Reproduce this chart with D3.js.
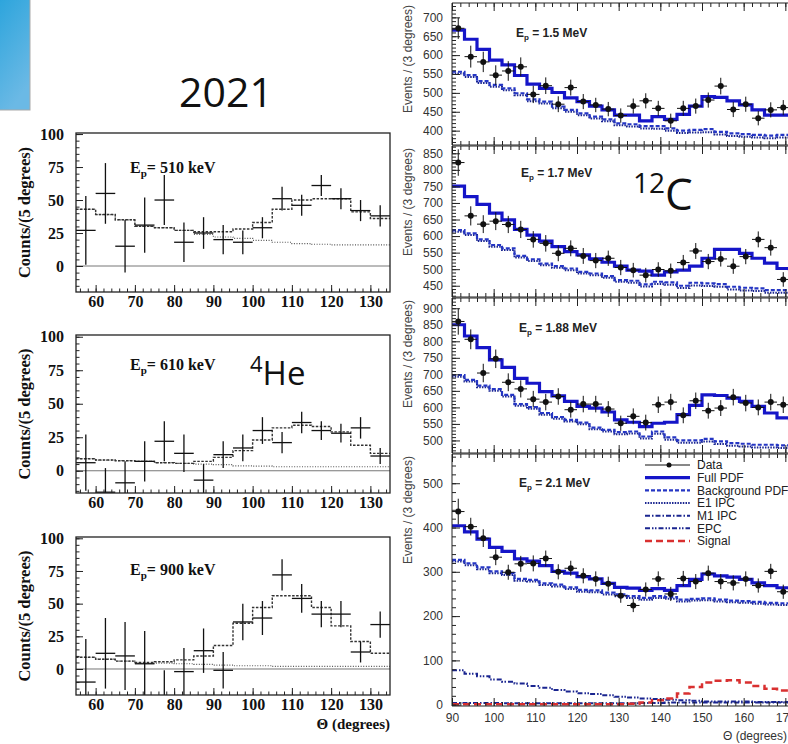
<!DOCTYPE html>
<html>
<head>
<meta charset="utf-8">
<script src="https://cdn.jsdelivr.net/npm/d3@7"></script>
<style>
  body { margin: 0; background: #fff; }
  svg { display: block; }
</style>
</head>
<body>
<svg id="chart" width="788" height="744"></svg>
<script>
// ---- 4He angular distributions (5 degree bins) ----
const heTheta = [57.5, 62.5, 67.5, 72.5, 77.5, 82.5, 87.5, 92.5, 97.5, 102.5, 107.5, 112.5, 117.5, 122.5, 127.5, 132.5];

const he510    = [27, 55, 15, 31, 50, 18, 25, 20, 18, 29, 51, 46, 61, 51, 42, 38];
const he510Err = [26, 23, 20, 21, 19, 15, 12, 11, 9, 8, 9, 8, 8, 8, 8, 8];
const he510Fit = [43, 39, 35, 30, 29, 27, 26, 26, 28, 33, 43, 50, 51, 51, 41, 36];
const he510Bkg = [43, 39, 35, 30, 29, 27, 24, 22, 21, 19.5, 18, 17, 16.5, 16, 16, 16];

const he610    = [6, -16, -9, 7, 22, 13, -7, 12, 17, 30, 21, 36, 30, 28, 32, 11];
const he610Err = [21, 18, 16, 15, 15, 14, 12, 10, 10, 10, 8, 8, 7, 7, 8, 6];
const he610Fit = [9, 8, 7.5, 7, 6, 5.5, 7, 10, 15, 23, 32, 34, 33, 29, 19, 13];
const he610Bkg = [9, 8, 7.5, 7, 6, 5.5, 5, 4.5, 3.7, 3.5, 3, 3, 3, 3, 3, 3];

const he900    = [-10, 12, 10, 4, -28, -2, 14, -1, 36, 39, 72, 54, 42, 42, 13, 34];
const he900Err = [33, 27, 26, 25, 27, 18, 17, 14, 14, 13, 12, 11, 10, 10, 8, 10];
const he900Fit = [9, 7.5, 6, 5, 5.5, 7, 10, 18, 35, 47, 56, 56, 47, 33, 21, 12];
const he900Bkg = [9, 7.5, 6, 4.5, 4.5, 4, 3.5, 3, 2.5, 2.5, 2, 2, 2, 2, 2, 2];

// ---- 12C angular distributions (3 degree bins) ----
const cTheta = [91.5, 94.5, 97.5, 100.5, 103.5, 106.5, 109.5, 112.5, 115.5, 118.5, 121.5, 124.5, 127.5, 130.5,
                133.5, 136.5, 139.5, 142.5, 145.5, 148.5, 151.5, 154.5, 157.5, 160.5, 163.5, 166.5, 169.5, 172.5];

const c15     = [671, 596, 582, 547, 558, 569, 496, 519, 470, 514, 477, 468, 457, 440, 465, 479, 459, 426, 459, 465, 481, 518, 456, 470, 433, 455, 461];
const c15Err  = [28, 29, 27, 26, 26, 25, 23, 22, 21, 21, 20, 19, 19, 19, 20, 20, 20, 19, 20, 20, 20, 22, 20, 20, 19, 20, 20];
const c15Full = [666, 642, 615, 587, 574, 546, 523, 512, 501, 487, 477, 465, 455, 441, 441, 426, 437, 430, 443, 465, 490, 488, 479, 468, 455, 441, 441, 441];
const c15Bkg  = [556, 547, 531, 521, 512, 499, 483, 477, 464, 455, 446, 437, 430, 419, 417, 412, 412, 406, 400, 402, 404, 397, 393, 391, 389, 387, 389, 389];
const c15E1   = [551, 542, 526, 516, 507, 494, 478, 472, 459, 450, 441, 432, 425, 414, 411, 406, 405, 400, 394, 395, 396, 390, 386, 384, 382, 380, 382, 382];

const c17     = [822, 661, 636, 645, 635, 620, 590, 578, 548, 563, 540, 526, 533, 505, 497, 482, 499, 495, 520, 555, 523, 531, 509, 538, 590, 565, 469];
const c17Err  = [40, 29, 27, 27, 26, 26, 25, 25, 24, 24, 24, 23, 23, 23, 22, 22, 22, 22, 23, 24, 23, 23, 23, 23, 24, 24, 22];
const c17Full = [751, 719, 696, 669, 649, 620, 603, 585, 568, 553, 543, 531, 521, 509, 497, 494, 482, 492, 497, 509, 533, 560, 560, 548, 533, 518, 502, 499];
const c17Bkg  = [618, 608, 590, 573, 563, 540, 530, 517, 509, 502, 492, 487, 479, 467, 465, 454, 462, 460, 450, 459, 457, 455, 447, 444, 442, 437, 437, 437];
const c17E1   = [613, 603, 585, 568, 558, 535, 525, 512, 504, 497, 487, 482, 474, 462, 459, 448, 455, 453, 443, 451, 449, 447, 439, 436, 434, 429, 429, 429];

const c188     = [860, 806, 704, 747, 676, 656, 625, 616, 633, 593, 610, 610, 595, 552, 573, 554, 608, 616, 576, 620, 590, 598, 631, 613, 600, 616, 608];
const c188Err  = [40, 30, 28, 28, 27, 26, 25, 25, 25, 24, 25, 25, 24, 23, 24, 24, 25, 25, 24, 25, 24, 24, 25, 25, 24, 25, 25];
const c188Full = [850, 816, 781, 744, 721, 688, 673, 648, 635, 618, 603, 598, 586, 562, 555, 542, 552, 555, 578, 606, 638, 636, 628, 618, 603, 583, 568, 565];
const c188Bkg  = [698, 683, 666, 655, 638, 610, 601, 583, 571, 562, 554, 539, 532, 525, 527, 512, 527, 509, 500, 500, 505, 497, 492, 490, 487, 487, 485, 487];
const c188E1   = [693, 678, 661, 650, 633, 605, 596, 578, 566, 557, 549, 534, 527, 519, 521, 506, 520, 502, 493, 493, 497, 489, 484, 482, 479, 479, 477, 479];

const c21       = [436, 402, 376, 333, 299, 318, 319, 330, 300, 308, 291, 284, 273, 246, 224, 260, 284, 250, 285, 278, 297, 278, 275, 284, 269, 301, 255];
const c21Err    = [29, 20, 20, 18, 17, 18, 18, 18, 17, 17, 17, 17, 16, 16, 15, 16, 17, 16, 17, 17, 17, 17, 17, 17, 16, 17, 16];
const c21Full   = [404, 390, 374, 355, 346, 329, 324, 314, 301, 297, 289, 284, 274, 265, 263, 258, 262, 258, 269, 283, 295, 291, 288, 283, 275, 269, 264, 262];
const c21Bkg    = [327, 319, 310, 301, 297, 284, 282, 274, 271, 265, 259, 258, 253, 249, 245, 241, 245, 243, 237, 239, 240, 237, 235, 234, 232, 230, 229, 230];
const c21E1     = [323, 315, 306, 297, 293, 280, 278, 270, 267, 261, 255, 254, 249, 245, 241, 237, 241, 239, 233, 235, 236, 233, 231, 230, 228, 226, 225, 226];
const c21M1     = [4, 4, 4, 4, 3, 3, 3, 3, 3, 3, 3, 3, 3, 3, 3, 4, 4, 5, 5, 5, 5, 5, 5, 5, 5, 5, 5, 5];
const c21Epc    = [78, 70, 64, 57, 52, 48, 42, 38, 33, 30, 26, 24, 21, 18, 16, 14, 13, 11, 10, 9, 7, 7, 7, 7, 6, 6, 6, 6];
const c21Signal = [1, 1, 1, 1, 1, 1, 1, 1, 1, 1, 1, 1, 1, 1, 2, 5, 10, 14, 25, 40, 50, 54, 55, 50, 42, 36, 32, 30];

const legendLabels = ["Data", "Full PDF", "Background PDF", "E1 IPC", "M1 IPC", "EPC", "Signal"];

const svg = d3.select("#chart");
const serif = "'Liberation Serif', 'Times New Roman', serif";
const sans = "'Liberation Sans', Arial, Helvetica, sans-serif";

// step histogram path through bin edges
function stepPath(x, y, centers, vals, half) {
  const pts = vals.map((v, i) => [centers[i] - half, v]);
  pts.push([centers[vals.length - 1] + half, vals[vals.length - 1]]);
  return d3.line().x(d => x(d[0])).y(d => y(d[1])).curve(d3.curveStepAfter)(pts);
}

// blue slide corner + title
const grad = svg.append("defs").append("linearGradient")
  .attr("id", "boxGrad").attr("x1", 0).attr("y1", 0).attr("x2", 0.4).attr("y2", 1);
grad.append("stop").attr("offset", "0%").attr("stop-color", "#2ba4dc");
grad.append("stop").attr("offset", "100%").attr("stop-color", "#6bb9e5");
svg.append("rect").attr("x", -2).attr("y", -2).attr("width", 32).attr("height", 112)
  .attr("fill", "url(#boxGrad)").attr("stroke", "#a9a9a9").attr("stroke-width", 1);

svg.append("text").attr("x", 226).attr("y", 107).attr("text-anchor", "middle")
  .attr("font-family", "'Open Sans', 'Liberation Sans', sans-serif").attr("font-size", 41)
  .attr("fill", "#111").text("2021");

// ---------------- left (4He) panels ----------------
const leftPanels = [
  { energy: "510", data: he510, err: he510Err, fit: he510Fit, bkg: he510Bkg, top: 133, bottom: 292, domain: [-19.7, 100.8], textY: 173 },
  { energy: "610", data: he610, err: he610Err, fit: he610Fit, bkg: he610Bkg, top: 335, bottom: 493, domain: [-16.6, 101.3], textY: 370 },
  { energy: "900", data: he900, err: he900Err, fit: he900Fit, bkg: he900Bkg, top: 537, bottom: 695, domain: [-19.9, 101], textY: 575 }
];

const xL = d3.scaleLinear().domain([55, 135]).range([76, 390]);

leftPanels.forEach((p, k) => {
  const y = d3.scaleLinear().domain(p.domain).range([p.bottom, p.top]);
  const g = svg.append("g");
  const clipId = "clipL" + k;
  svg.select("defs").append("clipPath").attr("id", clipId)
    .append("rect").attr("x", 76).attr("y", p.top).attr("width", 314).attr("height", p.bottom - p.top);
  const inner = g.append("g").attr("clip-path", `url(#${clipId})`);

  // zero line
  inner.append("line").attr("x1", 76).attr("x2", 390).attr("y1", y(0)).attr("y2", y(0))
    .attr("stroke", "#666").attr("stroke-width", 0.9);

  inner.append("path").attr("d", stepPath(xL, y, heTheta, p.bkg, 2.5))
    .attr("fill", "none").attr("stroke", "#555").attr("stroke-width", 1.2).attr("stroke-dasharray", "1,1.6");
  inner.append("path").attr("d", stepPath(xL, y, heTheta, p.fit, 2.5))
    .attr("fill", "none").attr("stroke", "#333").attr("stroke-width", 1.4).attr("stroke-dasharray", "2.5,1.5");

  const pts = inner.selectAll(".pt").data(p.data.map((v, i) => ({ x: heTheta[i], v, e: p.err[i] })))
    .enter().append("g");
  pts.append("line").attr("x1", d => xL(d.x)).attr("x2", d => xL(d.x))
    .attr("y1", d => y(d.v - d.e)).attr("y2", d => y(d.v + d.e))
    .attr("stroke", "#111").attr("stroke-width", 1.3);
  pts.append("line").attr("x1", d => xL(d.x - 2.5)).attr("x2", d => xL(d.x + 2.5))
    .attr("y1", d => y(d.v)).attr("y2", d => y(d.v))
    .attr("stroke", "#111").attr("stroke-width", 1.3);

  // axes
  const yAx = g.append("g").attr("transform", "translate(76,0)")
    .call(d3.axisLeft(y).tickValues([0, 25, 50, 75, 100]).tickSize(-7).tickPadding(12));
  g.append("g").attr("transform", "translate(76,0)")
    .call(d3.axisLeft(y).tickValues(d3.range(-15, 101, 5)).tickSize(-3.5).tickFormat(""));
  const xAx = g.append("g").attr("transform", `translate(0,${p.bottom})`)
    .call(d3.axisBottom(xL).tickValues(d3.range(60, 131, 10)).tickSize(-7).tickPadding(4));
  g.append("g").attr("transform", `translate(0,${p.bottom})`)
    .call(d3.axisBottom(xL).tickValues(d3.range(56, 135, 2)).tickSize(-3.5).tickFormat(""));
  g.selectAll(".domain").remove();
  g.selectAll(".tick line").attr("stroke", "#222");
  [yAx, xAx].forEach(a => a.selectAll("text")
    .attr("font-family", serif).attr("font-size", 16).attr("font-weight", "bold").attr("fill", "#111"));

  g.append("rect").attr("x", 76).attr("y", p.top).attr("width", 314).attr("height", p.bottom - p.top)
    .attr("fill", "none").attr("stroke", "#222").attr("stroke-width", 1.3);

  const lab = g.append("text").attr("x", 130).attr("y", p.textY)
    .attr("font-family", serif).attr("font-weight", "bold").attr("font-size", 16).attr("fill", "#111");
  lab.append("tspan").text("E");
  lab.append("tspan").attr("font-size", 11).attr("dy", 4).text("p");
  lab.append("tspan").attr("dy", -4).text("= " + p.energy + " keV");

  g.append("text")
    .attr("transform", `translate(30,${(p.top + p.bottom) / 2}) rotate(-90)`)
    .attr("text-anchor", "middle")
    .attr("font-family", serif).attr("font-weight", "bold").attr("font-size", 16.5).attr("fill", "#111")
    .text("Counts/(5 degrees)");
});

svg.append("text").attr("x", 390).attr("y", 729).attr("text-anchor", "end")
  .attr("font-family", serif).attr("font-weight", "bold").attr("font-size", 15).attr("fill", "#111")
  .text("Θ (degrees)");

const he = svg.append("text").attr("x", 250).attr("y", 385)
  .attr("font-family", "'Open Sans', 'Liberation Sans', sans-serif").attr("font-size", 33).attr("fill", "#111");
he.append("tspan").attr("font-size", 22).attr("dy", -13).text("4");
he.append("tspan").attr("dy", 13).text("He");

// ---------------- right (12C) panels ----------------
const rightPanels = [
  { energy: "1.5", data: c15, err: c15Err, full: c15Full, bkg: c15Bkg, e1: c15E1, top: 3, bottom: 145, domain: [362, 738], major: 50, minor: 10, textX: 516, textY: 37 },
  { energy: "1.7", data: c17, err: c17Err, full: c17Full, bkg: c17Bkg, e1: c17E1, top: 146, bottom: 297, domain: [416, 872], major: 50, minor: 10, textX: 521, textY: 177 },
  { energy: "1.88", data: c188, err: c188Err, full: c188Full, bkg: c188Bkg, e1: c188E1, top: 298, bottom: 453, domain: [462, 931], major: 50, minor: 10, textX: 519, textY: 332 },
  { energy: "2.1", data: c21, err: c21Err, full: c21Full, bkg: c21Bkg, e1: c21E1, m1: c21M1, epc: c21Epc, signal: c21Signal, top: 454, bottom: 706, domain: [-3, 566], major: 100, minor: 20, textX: 519, textY: 487 }
];

const xR = d3.scaleLinear().domain([90, 180]).range([452, 827]);
const blue = "#1515c8", blueDash = "#2536c4", navy = "#1a2590", red = "#d93030";

rightPanels.forEach((p, k) => {
  const y = d3.scaleLinear().domain(p.domain).range([p.bottom, p.top]);
  const g = svg.append("g");
  const clipId = "clipR" + k;
  svg.select("defs").append("clipPath").attr("id", clipId)
    .append("rect").attr("x", 452).attr("y", p.top).attr("width", 375).attr("height", p.bottom - p.top);
  const inner = g.append("g").attr("clip-path", `url(#${clipId})`);

  const curve = (vals, color, width, dash) => inner.append("path")
    .attr("d", stepPath(xR, y, cTheta, vals, 1.5))
    .attr("fill", "none").attr("stroke", color).attr("stroke-width", width).attr("stroke-dasharray", dash);

  if (p.signal) {
    curve(p.m1, navy, 2, "5,2,1.5,2");
    curve(p.epc, navy, 2, "5,2,1.5,1.5,1.5,2");
    curve(p.signal, red, 2.5, "7,4");
  }
  curve(p.e1, navy, 2, "1.5,1.2");
  curve(p.bkg, blueDash, 2.2, "4,2");
  curve(p.full, blue, 3.2, null);

  const pts = inner.selectAll(".pt").data(p.data.map((v, i) => ({ x: cTheta[i], v, e: p.err[i] })))
    .enter().append("g");
  pts.append("line").attr("x1", d => xR(d.x)).attr("x2", d => xR(d.x))
    .attr("y1", d => y(d.v - d.e)).attr("y2", d => y(d.v + d.e)).attr("stroke", "#111").attr("stroke-width", 1);
  pts.append("line").attr("x1", d => xR(d.x - 1.5)).attr("x2", d => xR(d.x + 1.5))
    .attr("y1", d => y(d.v)).attr("y2", d => y(d.v)).attr("stroke", "#111").attr("stroke-width", 1);
  pts.append("circle").attr("cx", d => xR(d.x)).attr("cy", d => y(d.v)).attr("r", 3).attr("fill", "#111");

  // axes
  const d0 = Math.ceil(p.domain[0] / p.major) * p.major;
  const yAx = g.append("g").attr("transform", "translate(452,0)")
    .call(d3.axisLeft(y).tickValues(d3.range(d0, p.domain[1], p.major)).tickSize(-8).tickPadding(9));
  g.append("g").attr("transform", "translate(452,0)")
    .call(d3.axisLeft(y).tickValues(d3.range(Math.ceil(p.domain[0] / p.minor) * p.minor, p.domain[1], p.minor))
      .tickSize(-4).tickFormat(""));
  const isLast = k === rightPanels.length - 1;
  const xAx = g.append("g").attr("transform", `translate(0,${p.bottom})`)
    .call(d3.axisBottom(xR).tickValues(d3.range(90, 181, 10)).tickSize(-8).tickPadding(7)
      .tickFormat(isLast ? d3.format("d") : ""));
  g.append("g").attr("transform", `translate(0,${p.bottom})`)
    .call(d3.axisBottom(xR).tickValues(d3.range(90, 181, 2)).tickSize(-4).tickFormat(""));
  g.append("g").attr("transform", `translate(0,${p.top})`)
    .call(d3.axisTop(xR).tickValues(d3.range(90, 181, 10)).tickSize(-8).tickFormat(""));
  g.append("g").attr("transform", `translate(0,${p.top})`)
    .call(d3.axisTop(xR).tickValues(d3.range(90, 181, 2)).tickSize(-4).tickFormat(""));
  g.selectAll(".domain").remove();
  g.selectAll(".tick line").attr("stroke", "#222");
  [yAx, xAx].forEach(a => a.selectAll("text")
    .attr("font-family", sans).attr("font-size", 12).attr("fill", "#333"));

  g.append("line").attr("x1", 452).attr("x2", 452).attr("y1", p.top).attr("y2", p.bottom).attr("stroke", "#222");
  g.append("line").attr("x1", 452).attr("x2", 827).attr("y1", p.top).attr("y2", p.top).attr("stroke", "#222");
  g.append("line").attr("x1", 452).attr("x2", 827).attr("y1", p.bottom).attr("y2", p.bottom).attr("stroke", "#222");

  const lab = g.append("text").attr("x", p.textX).attr("y", p.textY)
    .attr("font-family", sans).attr("font-weight", "bold").attr("font-size", 12).attr("fill", "#222");
  lab.append("tspan").text("E");
  lab.append("tspan").attr("font-size", 8).attr("dy", 3).text("p");
  lab.append("tspan").attr("dy", -3).text(" = " + p.energy + " MeV");

  g.append("text")
    .attr("transform", `translate(412,${p.top + 2}) rotate(-90)`)
    .attr("text-anchor", "end")
    .attr("font-family", sans).attr("font-size", 12).attr("fill", "#444")
    .text("Events / (3 degrees)");
});

svg.append("text").attr("x", 787).attr("y", 740).attr("text-anchor", "end")
  .attr("font-family", sans).attr("font-size", 12).attr("fill", "#333").text("Θ (degrees)");

// legend
const legStyles = [
  { color: "#111", width: 1, dash: null },
  { color: blue, width: 3.2, dash: null },
  { color: blueDash, width: 2.2, dash: "4,2" },
  { color: navy, width: 2, dash: "1.5,1.2" },
  { color: navy, width: 2, dash: "5,2,1.5,2" },
  { color: navy, width: 2, dash: "5,2,1.5,1.5,1.5,2" },
  { color: red, width: 2.5, dash: "7,4" }
];
const legY = d3.scalePoint().domain(legendLabels).range([465, 541]);
const leg = svg.append("g");
legendLabels.forEach((name, i) => {
  const s = legStyles[i];
  leg.append("line").attr("x1", 645).attr("x2", 690).attr("y1", legY(name)).attr("y2", legY(name))
    .attr("stroke", s.color).attr("stroke-width", s.width).attr("stroke-dasharray", s.dash);
  if (i === 0) leg.append("circle").attr("cx", 669).attr("cy", legY(name)).attr("r", 2.5).attr("fill", "#111");
  leg.append("text").attr("x", 697).attr("y", legY(name)).attr("dy", "0.35em")
    .attr("font-family", sans).attr("font-size", 12).attr("fill", "#222").text(name);
});

const cc = svg.append("text").attr("x", 633).attr("y", 210)
  .attr("font-family", "'Open Sans', 'Liberation Sans', sans-serif").attr("font-size", 44).attr("fill", "#111");
cc.append("tspan").attr("font-size", 28).attr("dy", -17).text("12");
cc.append("tspan").attr("dy", 17).text("C");
</script>
</body>
</html>
